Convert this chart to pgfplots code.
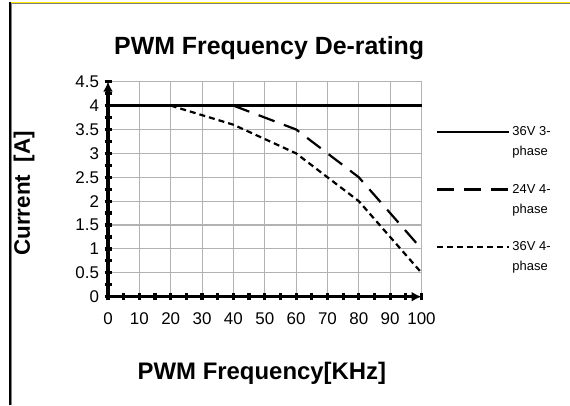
\documentclass[border=0pt]{standalone}
\usepackage{fontspec}
\setmainfont{Liberation Sans}
\usepackage{pgfplots}
\pgfplotsset{compat=1.18}
\usetikzlibrary{arrows.meta}
\begin{document}
\begin{tikzpicture}[x=1bp,y=1bp]
\path[use as bounding box] (0,0) rectangle (570,405);
\fill[white] (0,0) rectangle (570,405);
\draw[yellow!90!orange, line width=1.4bp] (9,402.5) -- (570,402.5);
\draw[gray, line width=1.2bp] (10,401.2) -- (570,401.2);
\draw[black, line width=2bp] (9.8,0) -- (9.8,403);
\draw[gray, line width=1.2bp] (11.5,0) -- (11.5,401);
\begin{axis}[
  at={(108bp,108.3bp)}, anchor=south west,
  scale only axis, width=313.5bp, height=215bp,
  xmin=0, xmax=100, ymin=0, ymax=4.5,
  axis lines=left,
  axis line style={black, line width=3.2bp, -{Latex[length=10bp,width=10bp]}},
  xtick={0,10,...,100}, ytick={0,0.5,...,4.5},
  minor x tick num=1, minor y tick num=1,
  tick align=center, major tick length=7bp, minor tick length=7bp,
  every tick/.style={black, line width=3.2bp},
  grid=major, major grid style={gray!60, line width=1.1bp},
  /pgf/number format/assume math mode=true,
  /pgf/number format/fixed,
  ticklabel style={font=\fontsize{17}{17}\selectfont},
  xticklabel style={yshift=-9bp},
  yticklabel style={xshift=-2bp},
  title={PWM Frequency De-rating},
  title style={font=\bfseries\fontsize{25}{25}\selectfont, at={(axis description cs:0.514,1.13)}, anchor=center},
  xlabel={PWM Frequency[KHz]},
  xlabel style={font=\bfseries\fontsize{24}{24}\selectfont, at={(axis description cs:0.491,-0.357)}, anchor=center},
  ylabel={Current\ \ [A]},
  ylabel style={font=\bfseries\fontsize{22.5}{22.5}\selectfont, at={(axis description cs:-0.268,0.48)}, anchor=center},
  legend style={draw=none, fill=none, at={(axis description cs:1.037,0.81)}, anchor=north west,
    font=\fontsize{13}{20}\selectfont, cells={anchor=west, align=left}, row sep=23bp},
  legend image code/.code={\draw[#1] (0bp,10bp) -- (72bp,10bp);},
  clip=false,
]
\addplot[black, line width=2.2bp] coordinates {(0,4) (100,4)};
\addlegendentry{36V 3-\\phase}
\addplot[black, line width=2.2bp, dash pattern=on 17bp off 10bp] coordinates {(40,4) (60,3.5) (80,2.5) (100,1)};
\addlegendentry{24V 4-\\phase}
\addplot[black, line width=2.2bp, dash pattern=on 6bp off 4bp] coordinates {(20,4) (40,3.6) (60,3.0) (80,2.0) (100,0.5)};
\addlegendentry{36V 4-\\phase}
\end{axis}
\end{tikzpicture}
\end{document}
